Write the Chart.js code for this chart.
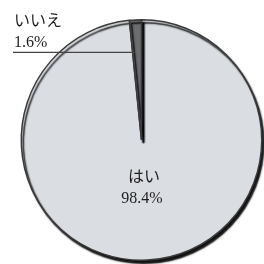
<!DOCTYPE html>
<html>
<head>
<meta charset="utf-8">
<script src="https://cdn.jsdelivr.net/npm/chart.js@4.4.1/dist/chart.umd.min.js"></script>
<style>
  html, body { margin: 0; padding: 0; background: #fff; }
  #wrap { width: 264px; height: 264px; }
</style>
</head>
<body>
<div id="wrap"><canvas id="pie"></canvas></div>
<script>
// answers to the question
const labels = ["はい", "いいえ"];
const values = [98.4, 1.6];
const valueText = ["98.4%", "1.6%"];
const colors = ["#dadde1", "#6c6d70"];

const textFont = '16px "Liberation Serif", "Noto Sans CJK JP", serif';

// shadow under the disc (bottom-right edge is darker in the scan)
const shadowPlugin = {
    id: "shadow",
    beforeDatasetDraw(chart) {
        const ctx = chart.ctx;
        ctx.save();
        ctx.shadowColor = "rgba(0,0,0,0.95)";
        ctx.shadowOffsetX = 2;
        ctx.shadowOffsetY = 3;
        ctx.shadowBlur = 1.5;
    },
    afterDatasetDraw(chart) {
        chart.ctx.restore();
    }
};

// labels: inside for the big slice, outside with a leader line for the small one
const labelPlugin = {
    id: "pieLabels",
    afterDraw(chart) {
        const ctx = chart.ctx;
        const arcs = chart.getDatasetMeta(0).data;
        ctx.save();
        ctx.fillStyle = "#1e1e1e";
        ctx.font = textFont;

        // big slice
        const a0 = arcs[0];
        const mid0 = (a0.startAngle + a0.endAngle) / 2;
        const r0 = a0.outerRadius * 0.4;
        const x0 = a0.x + Math.cos(mid0) * r0;
        const y0 = a0.y + Math.sin(mid0) * r0;
        ctx.textAlign = "center";
        ctx.textBaseline = "middle";
        ctx.fillText(labels[0], x0, y0 - 10);
        ctx.fillText(valueText[0], x0 - 2, y0 + 11);

        // small slice, leader line to the left
        const a1 = arcs[1];
        const mid1 = (a1.startAngle + a1.endAngle) / 2;
        const r1 = a1.outerRadius * 0.73;
        const lx = a1.x + Math.cos(a1.startAngle) * r1 + 2;
        const ly = a1.y + Math.sin(mid1) * r1;
        ctx.strokeStyle = "#444";
        ctx.lineWidth = 1.2;
        ctx.beginPath();
        ctx.moveTo(lx, ly);
        ctx.lineTo(13, ly);
        ctx.stroke();
        ctx.textAlign = "left";
        ctx.textBaseline = "alphabetic";
        ctx.fillText(labels[1], 14, ly - 26);
        ctx.fillText(valueText[1], 14, ly - 5);
        ctx.restore();
    }
};

new Chart(document.getElementById("pie"), {
    type: "pie",
    data: {
        labels: labels,
        datasets: [{
            data: values,
            backgroundColor: colors,
            borderColor: "#3a3a3a",
            borderWidth: 1.5
        }]
    },
    options: {
        responsive: true,
        maintainAspectRatio: false,
        animation: false,
        layout: {
            padding: { left: 20, right: 1, top: 19, bottom: 3 }
        },
        plugins: {
            legend: { display: false },
            tooltip: { enabled: false }
        }
    },
    plugins: [shadowPlugin, labelPlugin]
});
</script>
</body>
</html>
